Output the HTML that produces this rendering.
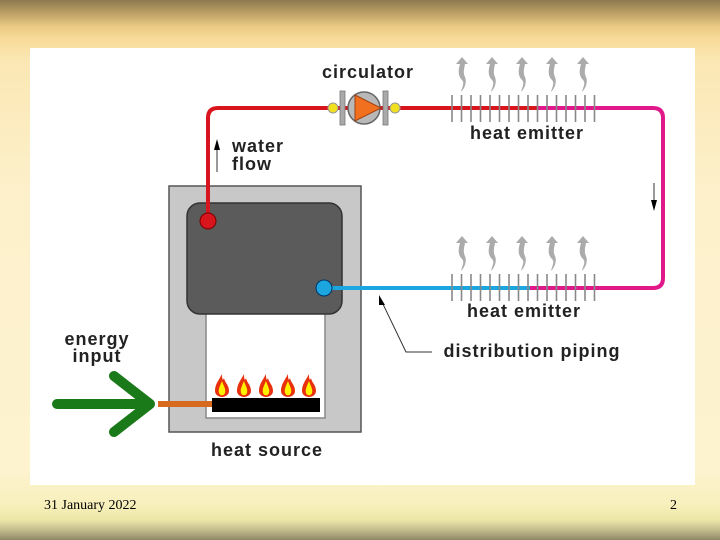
<!DOCTYPE html>
<html><head><meta charset="utf-8"><style>
html,body{margin:0;padding:0;width:720px;height:540px;overflow:hidden}
body{background:linear-gradient(#8e7a50 0px,#b89c62 12px,#e9c982 26px,#f8da98 38px,#fbe7b4 60px,#fdf1cc 200px,#fdf3cf 470px,#f8f0bc 505px,#ece6a8 520px,#b9b286 532px,#8e8866 540px);font-family:"Liberation Sans",sans-serif}
svg{position:absolute;left:0;top:0}
</style></head><body>
<svg width="720" height="540" viewBox="0 0 720 540">
<defs>
<g id="steam"><path d="M0,-17 L-6,-10 L-2,-10 C-4,-3 -4,2 0,6 C3,9 0,13 -1,18 C3,14 5,8 3,3 C1,-1 2,-5 3,-10 L6,-10 Z" fill="#ababab"/></g>
<g id="flame"><path d="M0,-15 C-3,-9 -7,-5 -7,2 C-7,6 -3,8 0,8 C3,8 7,6 7,2 C7,-4 3,-6 2,-11 C1,-8 0,-9 0,-15Z" fill="#e8300c"/><path d="M0,-8 C-2,-3 -4,0 -3,4 C-2,7 2,7 3,4 C4,0 2,-2 0,-8Z" fill="#fff000"/></g>
<g id="fins"><g stroke="#888" stroke-width="1.6">
<line x1="0" y1="0" x2="0" y2="27"/><line x1="9.5" y1="0" x2="9.5" y2="27"/><line x1="19" y1="0" x2="19" y2="27"/><line x1="28.5" y1="0" x2="28.5" y2="27"/><line x1="38" y1="0" x2="38" y2="27"/><line x1="47.5" y1="0" x2="47.5" y2="27"/><line x1="57" y1="0" x2="57" y2="27"/><line x1="66.5" y1="0" x2="66.5" y2="27"/><line x1="76" y1="0" x2="76" y2="27"/><line x1="85.5" y1="0" x2="85.5" y2="27"/><line x1="95" y1="0" x2="95" y2="27"/><line x1="104.5" y1="0" x2="104.5" y2="27"/><line x1="114" y1="0" x2="114" y2="27"/><line x1="123.5" y1="0" x2="123.5" y2="27"/><line x1="133" y1="0" x2="133" y2="27"/><line x1="142.5" y1="0" x2="142.5" y2="27"/></g></g>
</defs>
<rect x="30" y="48" width="665" height="437" fill="#fff"/>
<rect x="169" y="186" width="192" height="246" fill="#c8c8c8" stroke="#555" stroke-width="1.5"/>
<rect x="206" y="310" width="119" height="108" fill="#fff" stroke="#888" stroke-width="1.5"/>
<rect x="187" y="203" width="155" height="111" rx="13" fill="#5b5b5b" stroke="#333" stroke-width="1.5"/>
<rect x="212" y="398" width="108" height="14" fill="#000"/>
<use href="#flame" x="222" y="389"/><use href="#flame" x="244" y="389"/><use href="#flame" x="266" y="389"/><use href="#flame" x="288" y="389"/><use href="#flame" x="309" y="389"/>
<path d="M208,221 V118 Q208,108 218,108 H538" fill="none" stroke="#d8141c" stroke-width="4"/>
<path d="M538,108 H653 Q663,108 663,118 V278 Q663,288 653,288 H530" fill="none" stroke="#e0188a" stroke-width="4"/>
<path d="M530,288 H324" fill="none" stroke="#1ba6e0" stroke-width="4"/>
<circle cx="208" cy="221" r="8" fill="#d8141c" stroke="#700" stroke-width="1"/>
<circle cx="324" cy="288" r="8" fill="#1ba6e0" stroke="#036" stroke-width="1"/>
<use href="#fins" x="452" y="95"/><use href="#fins" x="452" y="274"/>
<use href="#steam" x="462" y="74"/><use href="#steam" x="492" y="74"/><use href="#steam" x="522" y="74"/><use href="#steam" x="552" y="74"/><use href="#steam" x="583" y="74"/>
<use href="#steam" x="462" y="253"/><use href="#steam" x="492" y="253"/><use href="#steam" x="522" y="253"/><use href="#steam" x="552" y="253"/><use href="#steam" x="583" y="253"/>
<rect x="340" y="91" width="5" height="34" fill="#aaa" stroke="#777" stroke-width="0.8"/>
<rect x="383" y="91" width="5" height="34" fill="#aaa" stroke="#777" stroke-width="0.8"/>
<circle cx="364" cy="108" r="16" fill="#b8b8b8" stroke="#666" stroke-width="1.5"/>
<path d="M355,95 L381,108 L355,121 Z" fill="#f07020" stroke="#a04010" stroke-width="1"/>
<circle cx="333" cy="108" r="5" fill="#f0e020" stroke="#999" stroke-width="1"/>
<circle cx="395" cy="108" r="5" fill="#f0e020" stroke="#999" stroke-width="1"/>
<line x1="217" y1="172" x2="217" y2="148" stroke="#555" stroke-width="1.2"/><path d="M214,150 L217,139 L220,150Z" fill="#000"/>
<line x1="654" y1="183" x2="654" y2="203" stroke="#555" stroke-width="1.2"/><path d="M651,200 L654,211 L657,200Z" fill="#000"/>
<path d="M381,300 L406,352 H432" fill="none" stroke="#333" stroke-width="1"/><path d="M379,295 L385,305 L379,305Z" fill="#000"/>
<line x1="57" y1="404" x2="143" y2="404" stroke="#1a7a1a" stroke-width="10" stroke-linecap="round"/>
<path d="M114,376 L150,404 L114,432" fill="none" stroke="#1a7a1a" stroke-width="10" stroke-linecap="round" stroke-linejoin="round"/>
<line x1="158" y1="404" x2="212" y2="404" stroke="#d86a20" stroke-width="6"/>
<g font-family="Liberation Sans, sans-serif" font-weight="bold" font-size="18" letter-spacing="1" fill="#222">
<text x="368" y="78" text-anchor="middle">circulator</text>
<text x="527" y="139" text-anchor="middle">heat emitter</text>
<text x="232" y="152">water</text><text x="232" y="170">flow</text>
<text x="524" y="317" text-anchor="middle">heat emitter</text>
<text x="532" y="357" text-anchor="middle">distribution piping</text>
<text x="97" y="345" text-anchor="middle">energy</text><text x="97" y="362" text-anchor="middle">input</text>
<text x="267" y="456" text-anchor="middle">heat source</text>
</g>
<g font-family="Liberation Serif, serif" font-size="14" fill="#000">
<text x="44" y="509">31 January 2022</text>
<text x="670" y="509">2</text>
</g>
</svg>
</body></html>
